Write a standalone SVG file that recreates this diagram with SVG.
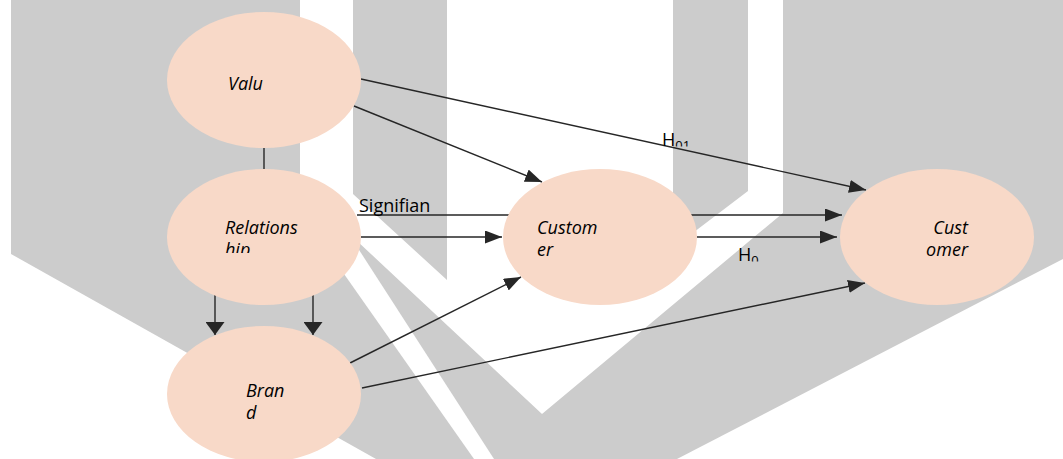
<svg xmlns="http://www.w3.org/2000/svg" width="1063" height="459" viewBox="0 0 1063 459">
  <style>
    .bg-gray { fill: #cccccc; }
    .bg-white { fill: #ffffff; }
    .node { fill: #f8d9c8; stroke: none; }
    .node-text { font-family: "Open Sans", "Liberation Sans", sans-serif; font-style: italic; font-size: 18px; fill: #000000; }
    .edge { stroke: #262626; stroke-width: 1.4; fill: none; }
    .label { font-family: "Open Sans", "Liberation Sans", sans-serif; font-size: 18px; fill: #000000; }
    .sub { font-family: "Open Sans", "Liberation Sans", sans-serif; font-size: 13px; fill: #000000; }
  </style>
  <defs>
    <marker id="arrow" viewBox="0 0 17 13" refX="17" refY="6.5" markerWidth="17" markerHeight="13" markerUnits="userSpaceOnUse" orient="auto">
      <path d="M0,0 L17,6.5 L0,13 Z" fill="#262626"/>
    </marker>
    <marker id="arrow-wide" viewBox="0 0 13 19" refX="13" refY="9.5" markerWidth="13" markerHeight="19" markerUnits="userSpaceOnUse" orient="auto">
      <path d="M0,0 L13,9.5 L0,19 Z" fill="#262626"/>
    </marker>
    <clipPath id="clip-hip"><rect x="160" y="160" width="210" height="93"/></clipPath>
    <clipPath id="clip-h01"><rect x="640" y="120" width="80" height="26.5"/></clipPath>
    <clipPath id="clip-h0"><rect x="720" y="230" width="60" height="31.5"/></clipPath>
  </defs>

  <g id="watermark">
    <polygon class="bg-gray" points="11,0 1063,0 1063,259 677,459 376,459 11,254"/>
    <polygon class="bg-white" points="300,0 353,0 353,194 447,280 447,0 673,0 673,248 748,191 748,0 783,0 783,213 542,414 356,240 300,240"/>
    <polygon class="bg-white" points="352,239 494,459 474,459 330,254"/>
  </g>

  <g id="connectors">
    <line class="edge" x1="361" y1="79" x2="866" y2="190" marker-end="url(#arrow)"/>
    <line class="edge" x1="354" y1="106" x2="542" y2="182" marker-end="url(#arrow)"/>
    <line class="edge" x1="264" y1="148" x2="264" y2="170"/>
    <line class="edge" x1="357" y1="215" x2="842" y2="215" marker-end="url(#arrow)"/>
    <line class="edge" x1="361" y1="237" x2="502" y2="237" marker-end="url(#arrow)"/>
    <line class="edge" x1="697" y1="237" x2="837" y2="237" marker-end="url(#arrow)"/>
    <line class="edge" x1="215" y1="295" x2="215" y2="335" marker-end="url(#arrow-wide)"/>
    <line class="edge" x1="313" y1="295" x2="313" y2="335" marker-end="url(#arrow-wide)"/>
    <line class="edge" x1="350" y1="363" x2="521" y2="277" marker-end="url(#arrow)"/>
    <line class="edge" x1="362" y1="388" x2="865" y2="283" marker-end="url(#arrow)"/>
  </g>

  <g id="node-value">
    <ellipse class="node" cx="264" cy="80" rx="97" ry="68"/>
    <text class="node-text" x="228" y="90">Valu</text>
  </g>

  <g id="node-relationship">
    <ellipse class="node" cx="264" cy="237" rx="97" ry="68"/>
    <text class="node-text" x="225" y="234">Relations</text>
    <text class="node-text" x="225" y="256" clip-path="url(#clip-hip)">hip</text>
  </g>

  <g id="node-brand">
    <ellipse class="node" cx="264" cy="394" rx="97" ry="68"/>
    <text class="node-text" x="246" y="397">Bran</text>
    <text class="node-text" x="246" y="419">d</text>
  </g>

  <g id="node-customer-mid">
    <ellipse class="node" cx="600" cy="237" rx="97" ry="68"/>
    <text class="node-text" x="537" y="234">Custom</text>
    <text class="node-text" x="537" y="256">er</text>
  </g>

  <g id="node-customer-right">
    <ellipse class="node" cx="937" cy="237" rx="97" ry="68"/>
    <text class="node-text" x="968" y="234" text-anchor="end">Cust</text>
    <text class="node-text" x="968" y="256" text-anchor="end">omer</text>
  </g>

  <g id="edge-labels">
    <text class="label" x="359" y="212">Signifian</text>
    <g clip-path="url(#clip-h01)">
      <text class="label" x="662" y="146">H<tspan class="sub" dy="4">01</tspan></text>
    </g>
    <g clip-path="url(#clip-h0)">
      <text class="label" x="738" y="261">H<tspan class="sub" dy="4">0</tspan></text>
    </g>
  </g>
</svg>
